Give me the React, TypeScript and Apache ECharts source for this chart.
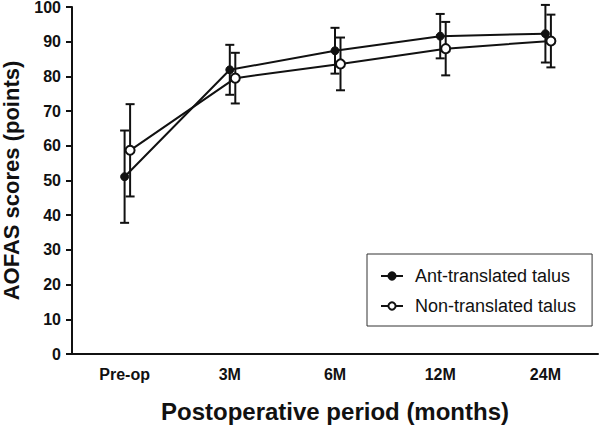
import React, { useEffect, useRef } from "react";
import * as echarts from "echarts";

const categories = ["Pre-op", "3M", "6M", "12M", "24M"];
const antMean = [51.1, 81.9, 87.4, 91.6, 92.3];
const antSd = [13.3, 7.2, 6.6, 6.4, 8.3];
const nonMean = [58.7, 79.5, 83.6, 88.0, 90.2];
const nonSd = [13.3, 7.3, 7.6, 7.7, 7.6];
const yTicks = { min: 0, max: 100, interval: 10 };

const FONT = "'Liberation Sans', Arial, sans-serif";
const INK = "#111";

function errorRender(params: any, api: any) {
  const i = api.value(0);
  const m = api.value(1);
  const sd = api.value(2);
  const top = api.coord([i, m + sd]);
  const bot = api.coord([i, m - sd]);
  const hw = 4.5;
  const style = { stroke: INK, lineWidth: 2 };
  return {
    type: "group",
    children: [
      { type: "line", shape: { x1: top[0], y1: top[1], x2: bot[0], y2: bot[1] }, style },
      { type: "line", shape: { x1: top[0] - hw, y1: top[1], x2: top[0] + hw, y2: top[1] }, style },
      { type: "line", shape: { x1: bot[0] - hw, y1: bot[1], x2: bot[0] + hw, y2: bot[1] }, style },
    ],
  };
}

export default function App() {
  const ref = useRef<HTMLDivElement>(null);
  useEffect(() => {
    if (!ref.current) return;
    const chart = echarts.init(ref.current, null, { renderer: "svg" });
    const gridH = 347;
    const hiddenAxis = {
      show: false,
    };
    chart.setOption({
      animation: false,
      backgroundColor: "#fff",
      grid: [
        { left: 72, top: 7, width: 526, height: gridH, containLabel: false, outerBoundsMode: "none" },
        { left: 77.5, top: 7, width: 526, height: gridH, containLabel: false, outerBoundsMode: "none" },
      ],
      xAxis: [
        {
          type: "category",
          gridIndex: 0,
          data: categories,
          boundaryGap: true,
          axisLine: { lineStyle: { color: INK, width: 2 } },
          axisTick: { alignWithLabel: true, interval: 0, length: 6, lineStyle: { color: INK, width: 2 } },
          axisLabel: { color: INK, fontFamily: FONT, fontWeight: "bold", fontSize: 16, margin: 12 },
          name: "Postoperative period (months)",
          nameLocation: "middle",
          nameGap: 45,
          nameTextStyle: { color: INK, fontFamily: FONT, fontWeight: "bold", fontSize: 24, verticalAlign: "top" },
        },
        { type: "category", gridIndex: 1, data: categories, boundaryGap: true, ...hiddenAxis },
      ],
      yAxis: [
        {
          type: "value",
          gridIndex: 0,
          min: yTicks.min,
          max: yTicks.max,
          interval: yTicks.interval,
          splitLine: { show: false },
          axisLine: { show: true, lineStyle: { color: INK, width: 2 } },
          axisTick: { show: true, length: 6, lineStyle: { color: INK, width: 2 } },
          axisLabel: { color: INK, fontFamily: FONT, fontWeight: "bold", fontSize: 16, margin: 11 },
          name: "AOFAS scores (points)",
          nameLocation: "middle",
          nameGap: 50,
          nameTextStyle: { color: INK, fontFamily: FONT, fontWeight: "bold", fontSize: 22 },
        },
        {
          type: "value",
          gridIndex: 1,
          min: yTicks.min,
          max: yTicks.max,
          interval: yTicks.interval,
          ...hiddenAxis,
        },
      ],
      legend: {
        orient: "vertical",
        left: 367,
        top: 254,
        padding: [13, 16, 11, 13],
        itemGap: 12,
        itemWidth: 22,
        itemHeight: 9,
        borderColor: "#333",
        borderWidth: 1,
        backgroundColor: "#fff",
        textStyle: { color: INK, fontFamily: FONT, fontSize: 18, lineHeight: 18, padding: [0, 0, 0, 7] },
        data: ["Ant-translated talus", "Non-translated talus"],
      },
      series: [
        {
          type: "custom",
          name: "ant-err",
          xAxisIndex: 0,
          yAxisIndex: 0,
          z: 1,
          renderItem: errorRender,
          data: categories.map((_, i) => [i, antMean[i], antSd[i]]),
          silent: true,
        },
        {
          type: "custom",
          name: "non-err",
          xAxisIndex: 1,
          yAxisIndex: 1,
          z: 1,
          renderItem: errorRender,
          data: categories.map((_, i) => [i, nonMean[i], nonSd[i]]),
          silent: true,
        },
        {
          type: "line",
          name: "Ant-translated talus",
          xAxisIndex: 0,
          yAxisIndex: 0,
          z: 3,
          data: antMean,
          symbol: "circle",
          symbolSize: 8,
          lineStyle: { color: INK, width: 2 },
          itemStyle: { color: INK, borderColor: INK, borderWidth: 1 },
        },
        {
          type: "line",
          name: "Non-translated talus",
          xAxisIndex: 1,
          yAxisIndex: 1,
          z: 3,
          data: nonMean,
          symbol: "circle",
          symbolSize: 9,
          lineStyle: { color: INK, width: 2 },
          itemStyle: { color: "#fff", borderColor: INK, borderWidth: 2 },
        },
      ],
    });
    return () => chart.dispose();
  }, []);
  return <div ref={ref} style={{ width: 600, height: 428, position: "absolute", left: 0, top: 0 }} />;
}
